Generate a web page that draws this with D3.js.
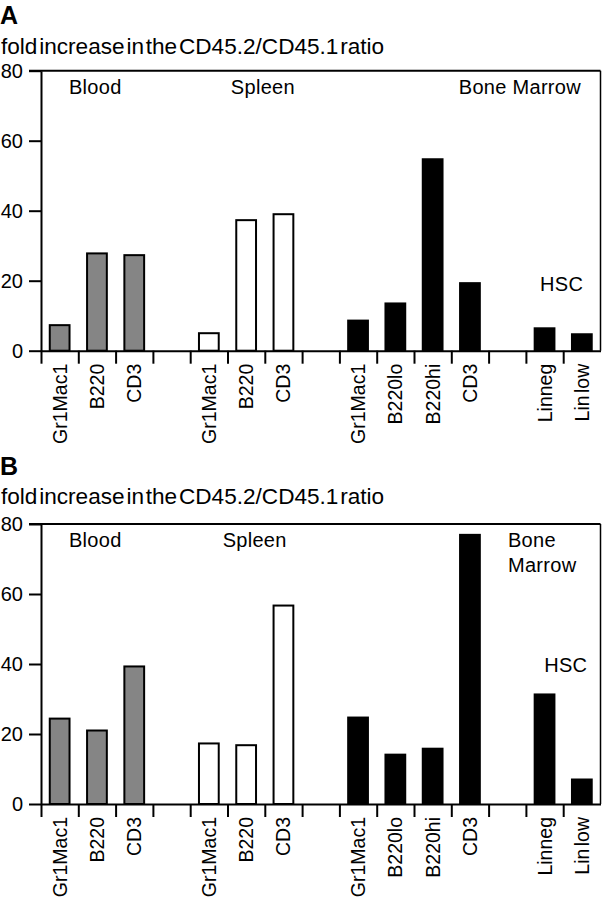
<!DOCTYPE html>
<html>
<head>
<meta charset="utf-8">
<script src="https://cdn.jsdelivr.net/npm/d3@7"></script>
<style>
  html, body { margin: 0; padding: 0; background: #fff; }
  svg text { font-family: "Liberation Sans", Arial, Helvetica, sans-serif; fill: #000; }
</style>
</head>
<body>
<svg id="chart" width="602" height="899"></svg>
<script>
// ---- data ----
const tickLabels = ["Gr1Mac1","B220","CD3","","Gr1Mac1","B220","CD3","","Gr1Mac1","B220lo","B220hi","CD3","","Linneg","Lin low"];
const tissue     = ["blood","blood","blood",null,"spleen","spleen","spleen",null,"bm","bm","bm","bm",null,"bm","bm"];
const valuesA = [7.3, 27.8, 27.3, null, 5.0, 37.3, 39.0, null, 8.6, 13.5, 54.7, 19.3, null, 6.4, 4.7];
const valuesB = [24.4, 21.0, 39.3, null, 17.3, 16.8, 56.7, null, 24.7, 14.1, 15.8, 76.9, null, 31.3, 7.0];
const yTicks = [0, 20, 40, 60, 80];
const yTitle = "fold increase in the CD45.2/CD45.1 ratio";
const notesA = [
  {lines:["Blood"], slot:0.75, value:73.3},
  {lines:["Spleen"], slot:5.09, value:73.3},
  {lines:["Bone Marrow"], slot:11.2, value:73.3},
  {lines:["HSC"], slot:13.38, value:17}
];
const notesB = [
  {lines:["Blood"], slot:0.75, value:73.3},
  {lines:["Spleen"], slot:4.87, value:73.3},
  {lines:["Bone","Marrow"], slot:12.52, value:73.4},
  {lines:["HSC"], slot:13.49, value:37.6}
];
const fills = {blood:"#858585", spleen:"#ffffff", bm:"#000000"};

const svg = d3.select("#chart");
const left = 41, right = 600.5, plotH = 280;
const slots = d3.range(tickLabels.length);
const xEdge = d3.scaleLinear().domain([0, slots.length]).range([left, right]);
const xBand = d3.scaleBand().domain(slots).range([left, right]).paddingInner(0.47).paddingOuter(0.235);

function panel(letter, values, notes, top, letterY, titleY) {
  const g = svg.append("g");
  const y = d3.scaleLinear().domain([0, 80]).range([top + plotH, top]);

  g.append("text").attr("x", 0).attr("y", letterY).attr("font-size", 25).attr("font-weight", "bold").text(letter);
  g.append("text").attr("x", 1).attr("y", titleY).attr("font-size", 22.6).attr("word-spacing", "-4.5px").text(yTitle);

  // bars
  g.selectAll("rect.bar").data(slots.filter(i => values[i] != null)).join("rect")
    .attr("class", "bar")
    .attr("x", i => xBand(i))
    .attr("width", xBand.bandwidth())
    .attr("y", i => y(values[i]))
    .attr("height", i => y(0) - y(values[i]))
    .attr("fill", i => fills[tissue[i]])
    .attr("stroke", "#000").attr("stroke-width", 2);

  // top border and right border
  g.append("line").attr("x1", left - 12).attr("x2", right).attr("y1", y(80)).attr("y2", y(80))
    .attr("stroke", "#000").attr("stroke-width", 2);
  g.append("line").attr("x1", right).attr("x2", right).attr("y1", y(80)).attr("y2", y(0))
    .attr("stroke", "#000").attr("stroke-width", 1.5);

  // y axis
  const ya = g.append("g").attr("transform", `translate(${left},0)`)
    .call(d3.axisLeft(y).tickValues(yTicks).tickSize(12).tickSizeOuter(0).tickPadding(6).tickFormat(d3.format("d")));
  ya.selectAll("path, line").attr("stroke", "#000").attr("stroke-width", 2);
  ya.selectAll("text").attr("font-size", 20).attr("font-family", null);

  // x axis ticks at slot edges
  const xa = g.append("g").attr("transform", `translate(0,${y(0)})`)
    .call(d3.axisBottom(xEdge).tickValues(slots).tickSize(13).tickSizeOuter(0).tickFormat(""));
  xa.selectAll("path, line").attr("stroke", "#000").attr("stroke-width", 2);

  // rotated category labels
  g.selectAll("text.cat").data(slots.filter(i => tickLabels[i])).join("text")
    .attr("class", "cat")
    .attr("transform", i => `translate(${xBand(i) + xBand.bandwidth() / 2},${y(0) + 13}) rotate(-90)`)
    .attr("text-anchor", "end").attr("dy", "0.36em").attr("font-size", 19.5)
    .attr("word-spacing", "-3px")
    .text(i => tickLabels[i]);

  // group annotations
  notes.forEach(n => {
    const t = g.append("text").attr("font-size", 20).attr("letter-spacing", "0.3px")
      .attr("x", xEdge(n.slot)).attr("y", y(n.value));
    n.lines.forEach((ln, k) => {
      t.append("tspan").attr("x", xEdge(n.slot)).attr("dy", k === 0 ? 0 : 25).text(ln);
    });
  });
}

panel("A", valuesA, notesA, 70.7, 24, 54);
panel("B", valuesB, notesB, 524, 475, 504);
</script>
</body>
</html>
